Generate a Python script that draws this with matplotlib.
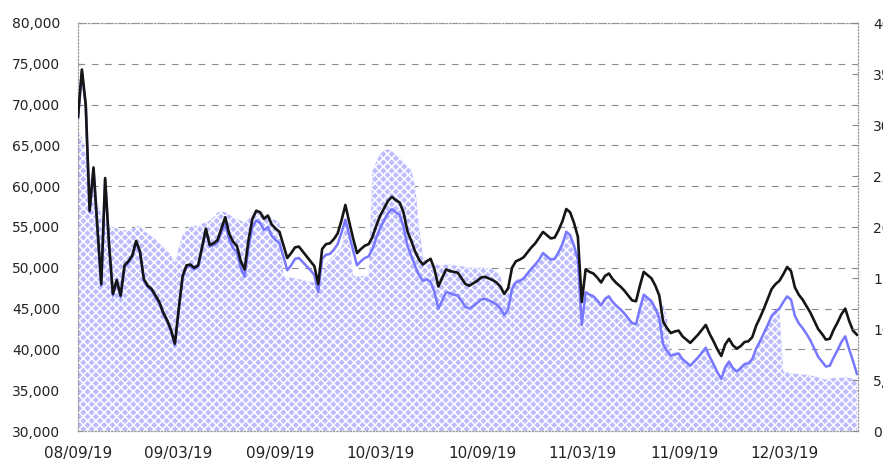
import matplotlib
matplotlib.use("Agg")
import matplotlib.pyplot as plt
import matplotlib.dates as mdates
from matplotlib.ticker import FuncFormatter, MultipleLocator
import pandas as pd

# weekly closes (left axis)
black = [68500, 74300, 70000, 57000, 62300, 55000, 48000, 61000, 53000, 46800,
         48500, 46600, 50300, 50800, 51500, 53300, 52000, 48600, 47800, 47400,
         46600, 45800, 44500, 43600, 42400, 40700, 45000, 49000, 50300, 50400,
         50000, 50300, 52500, 54800, 52800, 53000, 53400, 54800, 56200, 54200,
         53200, 52700, 50800, 49800, 53400, 56000, 57000, 56800, 56000, 56400,
         55300, 54800, 54400, 52800, 51200, 51800, 52500, 52600, 52000, 51400,
         50800, 50200, 48000, 52300, 52900, 53000, 53500, 54200, 55800, 57700,
         55600, 53600, 51800, 52300, 52700, 52900, 53800, 55200, 56400, 57300,
         58200, 58700, 58300, 58000, 56800, 54500, 53300, 52000, 51000, 50400,
         50800, 51100, 49800, 47700, 48800, 49800, 49600, 49500, 49400, 48700,
         48000, 47800, 48100, 48400, 48800, 48900, 48700, 48500, 48200, 47700,
         46800, 47500, 50000, 50800, 51000, 51300, 51900, 52500, 53000, 53700,
         54400, 54000, 53600, 53700, 54600, 55700, 57200, 56800, 55500, 53800,
         45800, 49800, 49500, 49300, 48800, 48200, 49000, 49300, 48600, 48100,
         47700, 47200, 46600, 46000, 45900, 47800, 49500, 49100, 48700, 47800,
         46600, 43400, 42600, 42000, 42200, 42300, 41600, 41200, 40800, 41300,
         41800, 42400, 43000, 41900, 41000, 40000, 39200, 40600, 41300, 40500,
         40100, 40400, 40900, 41000, 41500, 42900, 43900, 45000, 46200, 47400,
         48000, 48400, 49200, 50100, 49600, 47600, 46700, 46100, 45300, 44500,
         43500, 42500, 41900, 41200, 41300, 42400, 43300, 44300, 45000, 43500,
         42300, 41800]

blue = [68300, 74100, 69800, 56800, 62100, 54800, 47800, 60800, 52800, 46600,
        48300, 46400, 50100, 50600, 51300, 53100, 51800, 48400, 47600, 47200,
        46400, 45600, 44300, 43400, 42200, 40500, 44800, 48800, 50100, 50200,
        49800, 50100, 52300, 54600, 52600, 52800, 53100, 54300, 55400, 53500,
        52400, 51900, 50000, 48900, 52500, 55000, 55800, 55500, 54600, 55000,
        53900, 53400, 53000, 51400, 49700, 50300, 51100, 51200, 50700, 50200,
        49700, 49100, 47000, 51100, 51600, 51700, 52200, 52900, 54300, 55900,
        54000, 52100, 50300, 50800, 51200, 51400, 52300, 53700, 54900, 55800,
        56700, 57200, 56800, 56500, 55000, 52700, 51500, 50200, 49100, 48400,
        48600, 48300, 47000, 45000, 46000, 47000, 46900, 46700, 46600, 45900,
        45200, 45000, 45300, 45700, 46100, 46200, 46000, 45800, 45500, 45000,
        44200, 44900, 47400, 48200, 48400, 48700, 49300, 49900, 50400, 51000,
        51800, 51400, 51000, 51100, 51900, 52900, 54400, 54000, 52700, 51000,
        43000, 47000, 46700, 46500, 46000, 45400, 46200, 46500, 45800, 45300,
        44900, 44400, 43800, 43200, 43100, 45000, 46700, 46300, 45900, 45000,
        43800, 40600, 39800, 39200, 39400, 39500, 38800, 38400, 38000, 38500,
        39000, 39600, 40200, 39100, 38200, 37200, 36400, 37800, 38500, 37700,
        37300, 37700, 38200, 38300, 38800, 40100, 41000, 42000, 43000, 44100,
        44600, 45000, 45800, 46500, 46100, 44100, 43200, 42600, 41900, 41100,
        40100, 39100, 38500, 37900, 38000, 39000, 39900, 40900, 41600, 40000,
        38600, 37000]

area = [66500, 66000, 64000, 61000, 60000, 58000, 56500, 56000, 55200, 55000,
        54800, 54600, 54600, 54500, 54800, 55000, 55200, 54500, 54200, 53800,
        53500, 53000, 52600, 52200, 51500, 50600, 52500, 54000, 54800, 55000,
        55200, 55000, 55500, 55500, 55800, 56200, 56800, 57000, 56800, 56500,
        56200, 56000, 55800, 55500, 56000, 56800, 57000, 57000, 56500, 56500,
        56000, 55800, 55500, 49000, 48800, 48800, 48700, 48600, 48500, 48400,
        48300, 48200, 47000, 49000, 50500, 51000, 51500, 52000, 52500, 55500,
        53500, 49000, 49000, 49000, 49000, 49000, 62000, 63000, 64000, 64400,
        64500, 64300, 64000, 63500, 63000, 62500, 62000, 60000, 55000, 51500,
        51000, 50800, 50500, 50300, 50300, 50400, 50400, 50300, 50200, 50200,
        50100, 50000, 50000, 50000, 50000, 50000, 49900, 49800, 49500, 49000,
        46500, 47500, 48000, 48500, 48700, 49000, 49500, 50000, 50500, 51200,
        52000, 51600, 51200, 51300, 52100, 53100, 54600, 54200, 52900, 51200,
        43000, 47200, 46900, 46700, 46200, 45600, 46400, 46700, 46000, 45500,
        45100, 44600, 44000, 43400, 43300, 45200, 46900, 46500, 46100, 45200,
        44500, 45500, 44000, 39400, 39600, 39700, 39000, 38600, 38200, 38700,
        39200, 39800, 40400, 39300, 38400, 37400, 36600, 38000, 38700, 37900,
        37500, 37900, 38400, 38500, 39000, 40300, 41200, 42200, 43200, 44300,
        44800, 45000, 37300, 37200, 37100, 37000, 37000, 36900, 36900, 36800,
        36700, 36600, 36400, 36300, 36400, 36500, 36500, 36500, 36600, 36500,
        36400, 36300]

dates = pd.date_range("2008-09-19", periods=len(black), freq="7D")
tick_dates = pd.to_datetime(["2008-09-19", "2009-03-19", "2009-09-19", "2010-03-19",
                             "2010-09-19", "2011-03-19", "2011-09-19", "2012-03-19"])

plt.rcParams['font.family'] = 'DejaVu Sans'
plt.rcParams['hatch.linewidth'] = 1.1
plt.rcParams['hatch.color'] = 'white'

fig = plt.figure(figsize=(8.83, 4.61), dpi=100)
ax = fig.add_axes([78/883, 30/461, 780/883, 408/461])

ax.fill_between(dates, 30000, area, facecolor='#bcbcff', edgecolor='white',
                hatch='xxxx', linewidth=0, zorder=1)
ax.plot(dates, blue, color='#7878ff', lw=1.8, zorder=2)
ax.plot(dates, black, color='#151515', lw=1.9, zorder=3)

ax.set_ylim(30000, 80000)
ax.set_xlim(pd.Timestamp("2008-09-19"), pd.Timestamp("2012-07-29"))
ax.yaxis.set_major_locator(MultipleLocator(5000))
ax.yaxis.set_major_formatter(FuncFormatter(lambda v, p: f"{int(v):,}"))
ax.set_xticks(tick_dates)
ax.xaxis.set_major_formatter(mdates.DateFormatter('%y/%m/%d'))

ax.grid(axis='y', color='#8c8c8c', linestyle=(0, (6, 6)), lw=0.8)
ax.set_axisbelow(True)
for s in ax.spines.values():
    s.set_color('#9a9a9a')
    s.set_linestyle(':')
    s.set_linewidth(0.9)

ax.tick_params(axis='y', direction='in', length=3, color='#888888',
               labelsize=10, labelcolor='#222222', pad=13)
ax.tick_params(axis='x', direction='in', length=3, color='#666666',
               labelsize=11, labelcolor='#222222', pad=11)

# secondary scale on the right (labels run past the image edge, as in the original)
ax2 = ax.twinx()
ax2.set_ylim(0, 40000)
ax2.yaxis.set_major_locator(MultipleLocator(5000))
ax2.yaxis.set_major_formatter(FuncFormatter(lambda v, p: f"{int(v):,}"))
ax2.tick_params(axis='y', direction='in', length=4, color='#888888',
                labelsize=10, labelcolor='#222222', pad=11)
for s in ax2.spines.values():
    s.set_visible(False)

fig.savefig("out.png", dpi=100)
